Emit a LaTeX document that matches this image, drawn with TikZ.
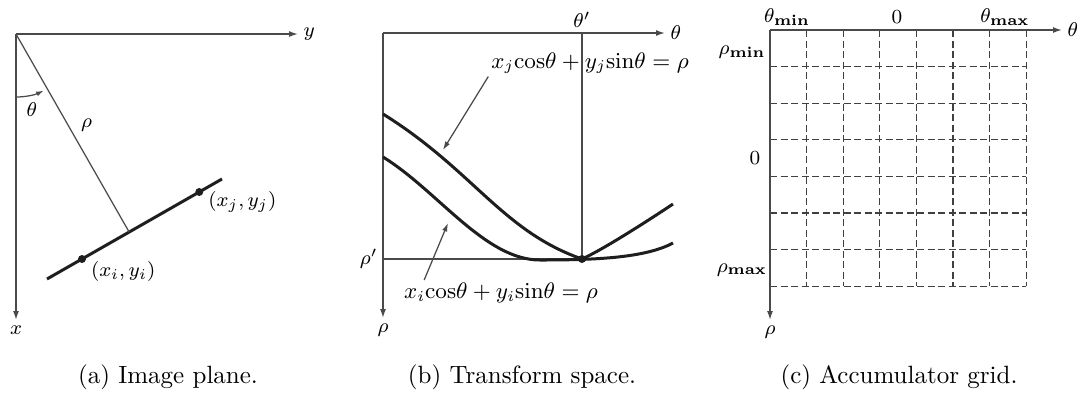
\documentclass[tikz,border=0pt]{standalone}
\usepackage{tikz}
\usetikzlibrary{arrows.meta, positioning, calc}
\usepackage{amsmath}
\definecolor{axisGray}{HTML}{4A4A4A}
\definecolor{curveInk}{HTML}{1E1E1E}
\newcommand{\hcos}{\mathrm{cos}}
\newcommand{\hsin}{\mathrm{sin}}

\begin{document}
\begin{tikzpicture}[x=0.4pt, y=-0.4pt,
  axis/.style={draw=axisGray, line width=0.6pt, -{Latex[length=3.6pt,width=2.4pt]}},
  guide/.style={draw=axisGray, line width=0.5pt},
  heavy/.style={draw=curveInk, line width=1.2pt},
  pointer/.style={draw=axisGray, line width=0.5pt, -{Latex[length=3.4pt,width=2.2pt]}},
  lbl/.style={font=\footnotesize, inner sep=1pt},
  eqlbl/.style={font=\small, inner sep=1pt},
  captext/.style={font=\normalsize},
  grd/.style={draw=black!75, line width=0.5pt, dash pattern=on 2.8pt off 1.4pt},
  dot/.style={circle, fill=curveInk, inner sep=0pt, minimum size=3.2pt}]
  \useasboundingbox (0,0) rectangle (1081,396);

  % (a) image plane
  \coordinate (oa) at (16,34);
  \coordinate (ya) at (298,34);
  \coordinate (xa) at (16,320);
  \draw[axis] (oa) -- (ya);
  \draw[axis] (oa) -- (xa);
  \node[lbl, right=1pt of ya] (ylab) {$y$};
  \node[lbl, below=1pt of xa] (xlab) {$x$};
  \coordinate (la) at (47,279);
  \coordinate (lb) at (222,179);
  \coordinate (foot) at ($(la)!(oa)!(lb)$);
  \draw[heavy] (la) -- (lb);
  \draw[guide] (oa) -- node[lbl, pos=0.46, right=4pt] (rholab) {$\rho$} (foot);
  \node[dot] (pi) at ($(la)!0.2!(lb)$) {};
  \node[dot] (pj) at ($(la)!0.87!(lb)$) {};
  \node[lbl, anchor=west] (pilab) at ($(pi)+(6,12)$) {$(x_i, y_i)$};
  \node[lbl, anchor=west] (pjlab) at ($(pj)+(6,10)$) {$(x_j, y_j)$};
  \draw[guide, -{Latex[length=3pt,width=2pt]}] (oa) ++(0,63)
    arc[start angle=-90, end angle=-64, radius=25.2pt];
  \node[lbl] (thlab) at (32,110) {$\theta$};
  \node[captext] (capa) at (168,377) {(a) Image plane.};

  % (b) transform space
  \coordinate (ob) at (383,33);
  \coordinate (tb) at (665,33);
  \coordinate (rb) at (383,318);
  \draw[axis] (ob) -- (tb);
  \draw[axis] (ob) -- (rb);
  \node[lbl, right=1pt of tb] (tblab) {$\theta$};
  \node[lbl, below=1pt of rb] (rblab) {$\rho$};
  \coordinate (tp) at (582,33);
  \coordinate (rp) at (383,259);
  \draw[guide] (tp) -- (582,259);
  \draw[guide] (rp) -- (582,259);
  \draw[heavy] (383,114) .. controls (473,170) and (502,231) .. (582,259)
    .. controls (600,251) and (640,226) .. (673,204);
  \draw[heavy] (383,157) .. controls (438,191) and (485,260) .. (540,260)
    .. controls (595,260) and (645,258) .. (673,243);
  \node[dot] (cross) at (582,259) {};
  \node[lbl, above=1pt of tp] (tplab) {$\theta'$};
  \node[lbl, left=1pt of rp] (rplab) {$\rho'$};
  \coordinate (jtip) at (443,150);
  \coordinate (itip) at (448,223);
  \node[eqlbl] (eqj) at (590,63) {$x_j\hcos\theta + y_j\hsin\theta = \rho$};
  \node[eqlbl] (eqi) at (501,293) {$x_i\hcos\theta + y_i\hsin\theta = \rho$};
  \draw[pointer] (eqj.south west) -- (jtip);
  \draw[pointer] ($(eqi.north west)+(23,0)$) -- (itip);
  \node[captext] (capb) at (522,377) {(b) Transform space.};

  % (c) accumulator grid
  \coordinate (oc) at (770,30);
  \coordinate (tc) at (1062,30);
  \coordinate (rc) at (770,320);
  \foreach \k in {1,...,7} {
    \draw[grd] ($(oc)+(36.6*\k,0)$) -- ++(0,256);
    \draw[grd] ($(oc)+(0,36.6*\k)$) -- ++(256,0);
  }
  \draw[axis] (oc) -- (tc);
  \draw[axis] (oc) -- (rc);
  \node[lbl, right=1pt of tc] (tclab) {$\theta$};
  \node[lbl, below=1pt of rc] (rclab) {$\rho$};
  \node[lbl] (tmin) at (787,17) {$\theta_{\mathbf{min}}$};
  \node[lbl] (tzero) at (897,17) {$0$};
  \node[lbl] (tmax) at (1005,17) {$\theta_{\mathbf{max}}$};
  \node[lbl] (rmin) at (742,52) {$\rho_{\mathbf{min}}$};
  \node[lbl] (rzero) at (755,158) {$0$};
  \node[lbl] (rmax) at (742,270) {$\rho_{\mathbf{max}}$};
  \node[captext] (capc) at (899,377) {(c) Accumulator grid.};
\end{tikzpicture}
\end{document}
